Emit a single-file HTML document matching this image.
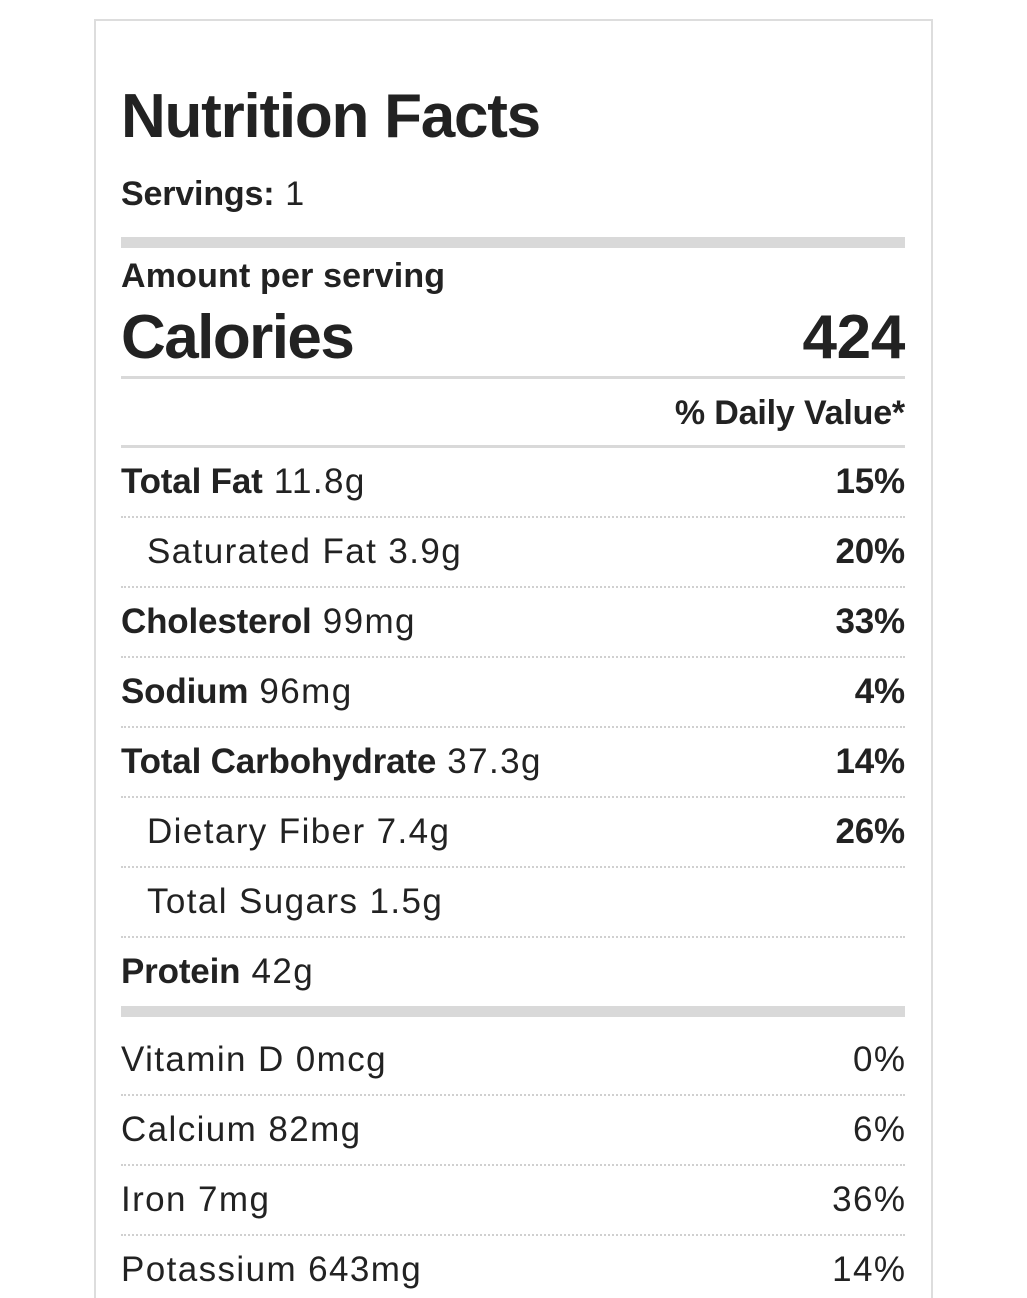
<!DOCTYPE html>
<html><head><meta charset="utf-8"><style>
html,body{margin:0;padding:0;background:#fff;width:1027px;height:1298px;overflow:hidden;position:relative;font-family:"Liberation Sans",Arial,sans-serif;color:#222;}
.box{position:absolute;left:94px;top:19px;width:835px;height:1300px;border:2px solid #ddd;border-bottom:none;}
.t{position:absolute;line-height:1;white-space:nowrap;letter-spacing:0.04em;}
.t b{letter-spacing:-0.005em;}
.r{right:122px;text-align:right;}
.rr{right:120.6px;text-align:right;}
.b{font-weight:bold;letter-spacing:-0.005em;}
.bar{position:absolute;left:121px;width:784px;background:#d9d9d9;}
.dot{position:absolute;left:121px;width:784px;border-top:2px dotted #d0d0d0;height:0;}
</style></head><body>
<div class="box"></div>
<div class="t b" style="left:121px;top:86px;font-size:62px;letter-spacing:-0.02em;">Nutrition Facts</div>
<div class="t" style="left:121px;top:177px;font-size:34px;"><b>Servings:</b> 1</div>
<div class="bar" style="top:237px;height:11px;"></div>
<div class="t b" style="left:121px;top:259px;font-size:34px;letter-spacing:0.005em;">Amount per serving</div>
<div class="t b" style="left:121px;top:307px;font-size:62px;letter-spacing:-0.025em;">Calories</div>
<div class="t b r" style="top:307px;font-size:62px;">424</div>
<div class="bar" style="top:376px;height:3px;"></div>
<div class="t b r" style="top:396px;font-size:34px;">% Daily Value*</div>
<div class="bar" style="top:445px;height:3px;"></div>

<div class="t" style="left:121px;top:464px;font-size:35px;"><b>Total Fat</b> 11.8g</div>
<div class="t b r" style="top:464px;font-size:35px;">15%</div>
<div class="dot" style="top:516px;"></div>
<div class="t" style="left:147px;top:534px;font-size:35px;">Saturated Fat 3.9g</div>
<div class="t b r" style="top:534px;font-size:35px;">20%</div>
<div class="dot" style="top:586px;"></div>
<div class="t" style="left:121px;top:604px;font-size:35px;"><b>Cholesterol</b> 99mg</div>
<div class="t b r" style="top:604px;font-size:35px;">33%</div>
<div class="dot" style="top:656px;"></div>
<div class="t" style="left:121px;top:674px;font-size:35px;"><b>Sodium</b> 96mg</div>
<div class="t b r" style="top:674px;font-size:35px;">4%</div>
<div class="dot" style="top:726px;"></div>
<div class="t" style="left:121px;top:744px;font-size:35px;"><b>Total Carbohydrate</b> 37.3g</div>
<div class="t b r" style="top:744px;font-size:35px;">14%</div>
<div class="dot" style="top:796px;"></div>
<div class="t" style="left:147px;top:814px;font-size:35px;">Dietary Fiber 7.4g</div>
<div class="t b r" style="top:814px;font-size:35px;">26%</div>
<div class="dot" style="top:866px;"></div>
<div class="t" style="left:147px;top:884px;font-size:35px;">Total Sugars 1.5g</div>
<div class="dot" style="top:936px;"></div>
<div class="t" style="left:121px;top:954px;font-size:35px;"><b>Protein</b> 42g</div>
<div class="bar" style="top:1006px;height:11px;"></div>

<div class="t" style="left:121px;top:1042px;font-size:35px;">Vitamin D 0mcg</div>
<div class="t rr" style="top:1042px;font-size:35px;">0%</div>
<div class="dot" style="top:1094px;"></div>
<div class="t" style="left:121px;top:1112px;font-size:35px;">Calcium 82mg</div>
<div class="t rr" style="top:1112px;font-size:35px;">6%</div>
<div class="dot" style="top:1164px;"></div>
<div class="t" style="left:121px;top:1182px;font-size:35px;">Iron 7mg</div>
<div class="t rr" style="top:1182px;font-size:35px;">36%</div>
<div class="dot" style="top:1234px;"></div>
<div class="t" style="left:121px;top:1252px;font-size:35px;">Potassium 643mg</div>
<div class="t rr" style="top:1252px;font-size:35px;">14%</div>
</body></html>
